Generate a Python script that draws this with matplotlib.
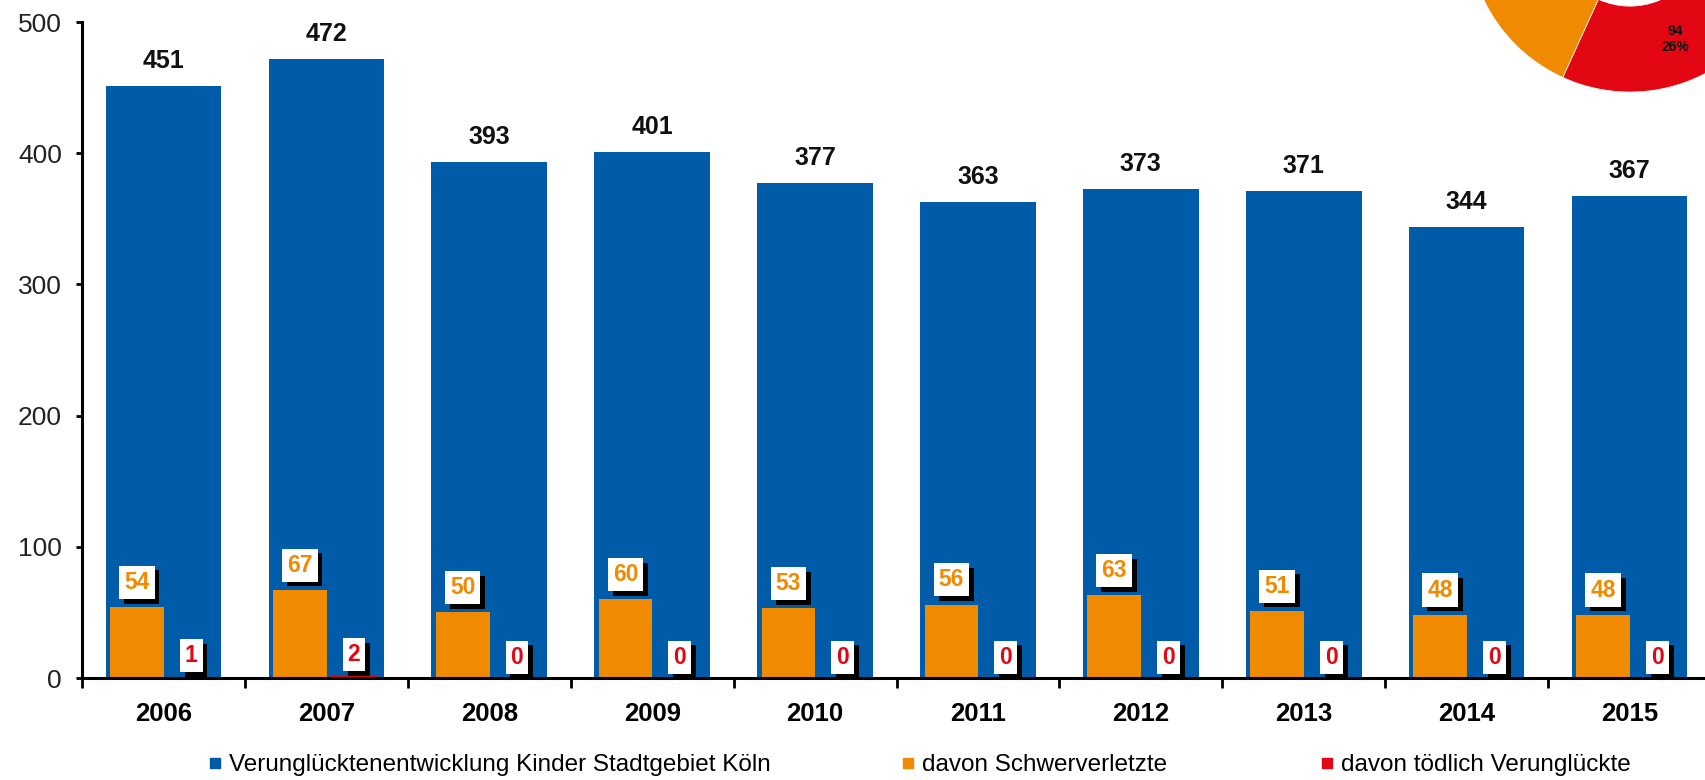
import matplotlib.pyplot as plt
import matplotlib.patheffects as pe
from matplotlib.lines import Line2D

# data
years = ['2006', '2007', '2008', '2009', '2010', '2011', '2012', '2013', '2014', '2015']
total = [451, 472, 393, 401, 377, 363, 373, 371, 344, 367]
schwer = [54, 67, 50, 60, 53, 56, 63, 51, 48, 48]
toedlich = [1, 2, 0, 0, 0, 0, 0, 0, 0, 0]

series_names = ['Verunglücktenentwicklung Kinder Stadtgebiet Köln',
                'davon Schwerverletzte', 'davon tödlich Verunglückte']

# donut in the top right corner (only partly visible)
donut_values = [94, 160, 107]

blue = '#005CA8'
orange = '#F08A00'
red = '#E30613'

plt.rcParams['font.family'] = ['Liberation Sans', 'DejaVu Sans']

fig = plt.figure(figsize=(17.06, 7.8), dpi=100)
ax = fig.add_axes([82 / 1706, 102 / 780, 1629 / 1706, 656 / 780])

x = list(range(len(years)))
ax.bar(x, total, width=0.71, color=blue, zorder=1)
ax.bar([i - 0.163 for i in x], schwer, width=0.33, color=orange, zorder=2)
ax.bar([i + 0.17 for i in x], toedlich, width=0.3, color=red, zorder=2)


def boxed_label(xpos, ypos, text, color, dy):
    # white box with a black drop shadow
    t = ax.annotate(text, (xpos, ypos), xytext=(0, dy), textcoords='offset points',
                    ha='center', va='center', fontsize=16.5, fontweight='bold', color=color,
                    bbox=dict(boxstyle='square,pad=0.22', fc='white', ec='none'), zorder=5)
    t.get_bbox_patch().set_path_effects([
        pe.SimplePatchShadow(offset=(3.5, -3.5), shadow_rgbFace='black', alpha=1),
        pe.Normal()])


for i in x:
    ax.annotate(str(total[i]), (i, total[i]), xytext=(0, 18), textcoords='offset points',
                ha='center', va='center', fontsize=18, fontweight='bold', color='#111111')
    boxed_label(i - 0.163, schwer[i], str(schwer[i]), orange, 18)
    boxed_label(i + 0.17, toedlich[i], str(toedlich[i]), red, 15)

ax.set_xlim(-0.5, len(years) - 0.5)
ax.set_ylim(0, 500)
ax.set_yticks([0, 100, 200, 300, 400, 500])
ax.set_xticks(x)
ax.set_xticklabels(years, fontsize=18.5, fontweight='bold')
ax.set_xticks([i + 0.5 for i in range(-1, len(years))], minor=True)
ax.tick_params(axis='x', which='major', length=0, pad=17)
ax.tick_params(axis='x', which='minor', length=7, width=2)
ax.tick_params(axis='y', length=4.5, width=2, pad=10, labelsize=19, labelcolor='#222222')

for s in ['top', 'right']:
    ax.spines[s].set_visible(False)
for s in ['left', 'bottom']:
    ax.spines[s].set_linewidth(2.2)
    ax.spines[s].set_zorder(6)

# legend entries, one per series
legend_x = [208 / 1706, 901 / 1706, 1320 / 1706]
for name, col, lx in zip(series_names, [blue, orange, red], legend_x):
    h = Line2D([], [], marker='s', linestyle='none', markersize=7, color=col)
    fig.legend([h], [name], loc='center left', bbox_to_anchor=(lx, 15 / 780),
               frameon=False, fontsize=17.5, handlelength=0.6, handletextpad=0.25,
               borderpad=0, borderaxespad=0)

# donut
pax = fig.add_axes([1468 / 1706, 688 / 780, 324 / 1706, 324 / 780])
total_donut = sum(donut_values)
wedges, labels, autotexts = pax.pie(
    donut_values, colors=[red, blue, orange], startangle=245.5, counterclock=True,
    wedgeprops=dict(width=0.53, edgecolor='white', linewidth=0.5),
    autopct=lambda p: '%d\n%d%%' % (round(p * total_donut / 100), round(p)),
    pctdistance=0.73, textprops=dict(fontsize=10, fontweight='bold', color='#111111'))
# only the red wedge's label lies inside the picture
for t in autotexts[1:]:
    t.set_visible(False)
pax.set_xlim(-1, 1)
pax.set_ylim(-1, 1)
pax.set_aspect('equal')

fig.savefig('out.png', dpi=100)
